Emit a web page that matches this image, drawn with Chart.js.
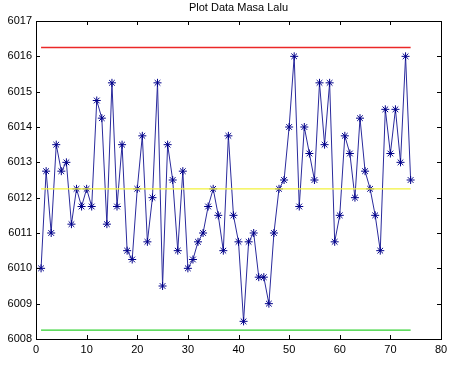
<!DOCTYPE html>
<html lang="en">
<head>
  <meta charset="UTF-8">
  <title>Plot Data Masa Lalu</title>
  <script src="https://cdn.jsdelivr.net/npm/chart.js"></script>
  <style>
    * { margin: 0; padding: 0; }
    body { background: #fff; }
    .wrap { position: relative; width: 454px; height: 368px; }
  </style>
</head>
<body>
  <div class="wrap">
    <canvas id="plot"></canvas>
  </div>

  <script>
    // data
    const dataValues = [
      6010, 6012.75, 6011, 6013.5, 6012.75, 6013, 6011.25, 6012.25, 6011.75, 6012.25,
      6011.75, 6014.75, 6014.25, 6011.25, 6015.25, 6011.75, 6013.5, 6010.5, 6010.25, 6012.25,
      6013.75, 6010.75, 6012, 6015.25, 6009.5, 6013.5, 6012.5, 6010.5, 6012.75, 6010,
      6010.25, 6010.75, 6011, 6011.75, 6012.25, 6011.5, 6010.5, 6013.75, 6011.5, 6010.75,
      6008.5, 6010.75, 6011, 6009.75, 6009.75, 6009, 6011, 6012.25, 6012.5, 6014,
      6016, 6011.75, 6014, 6013.25, 6012.5, 6015.25, 6013.5, 6015.25, 6010.75, 6011.5,
      6013.75, 6013.25, 6012, 6014.25, 6012.75, 6012.25, 6011.5, 6010.5, 6014.5, 6013.25,
      6014.5, 6013, 6016, 6012.5
    ];
    const upperLimit = 6016.25;
    const centerLine = 6012.25;
    const lowerLimit = 6008.25;
    const xTicks = [0, 10, 20, 30, 40, 50, 60, 70, 80];
    const yTicks = [6008, 6009, 6010, 6011, 6012, 6013, 6014, 6015, 6016, 6017];

    const points = dataValues.map((v, i) => ({ x: i + 1, y: v }));
    const first = 1, last = dataValues.length;
    const hLine = v => [{ x: first, y: v }, { x: last, y: v }];

    // MATLAB style box with inward ticks on all sides, plus the title
    const matlabBox = {
      id: 'matlabBox',
      afterDraw(chart) {
        const { ctx, chartArea: a, scales } = chart;
        ctx.save();
        ctx.strokeStyle = '#000';
        ctx.lineWidth = 1;
        ctx.strokeRect(Math.round(a.left) + 0.5, Math.round(a.top) + 0.5,
          Math.round(a.right - a.left), Math.round(a.bottom - a.top));
        ctx.beginPath();
        xTicks.forEach(t => {
          const px = Math.round(scales.x.getPixelForValue(t)) + 0.5;
          ctx.moveTo(px, a.bottom); ctx.lineTo(px, a.bottom - 4);
          ctx.moveTo(px, a.top); ctx.lineTo(px, a.top + 4);
        });
        yTicks.forEach(t => {
          const py = Math.round(scales.y.getPixelForValue(t)) + 0.5;
          ctx.moveTo(a.left, py); ctx.lineTo(a.left + 4, py);
          ctx.moveTo(a.right, py); ctx.lineTo(a.right - 4, py);
        });
        ctx.stroke();
        ctx.fillStyle = '#000';
        ctx.font = '11px "Liberation Sans", Arial, sans-serif';
        ctx.textAlign = 'center';
        ctx.textBaseline = 'middle';
        ctx.fillText('Plot Data Masa Lalu', (a.left + a.right) / 2, 8);
        ctx.restore();
      }
    };

    new Chart(document.getElementById('plot'), {
      type: 'line',
      data: {
        datasets: [
          {
            data: hLine(upperLimit),
            borderColor: 'rgb(235, 40, 40)',
            borderWidth: 1.3,
            pointRadius: 0
          },
          {
            data: hLine(centerLine),
            borderColor: 'rgb(242, 242, 60)',
            borderWidth: 1.3,
            pointRadius: 0
          },
          {
            data: hLine(lowerLimit),
            borderColor: 'rgb(46, 209, 46)',
            borderWidth: 1.3,
            pointRadius: 0
          },
          {
            data: points,
            borderColor: '#2a2a9c',
            borderWidth: 1,
            tension: 0,
            pointStyle: 'star',
            pointRadius: 4,
            pointBorderColor: '#00008a',
            pointBorderWidth: 1,
            pointBackgroundColor: '#00008a'
          }
        ]
      },
      options: {
        responsive: true,
        maintainAspectRatio: false,
        animation: false,
        layout: { padding: { top: 21, right: 13, left: 0, bottom: 0 } },
        plugins: {
          legend: { display: false },
          tooltip: { enabled: false }
        },
        scales: {
          x: {
            type: 'linear',
            min: 0,
            max: 80,
            afterBuildTicks: s => { s.ticks = xTicks.map(v => ({ value: v })); },
            afterFit: s => { s.height = 29; },
            grid: { display: false, drawTicks: false },
            border: { display: false },
            ticks: {
              color: '#000',
              padding: 4,
              maxRotation: 0,
              font: { family: '"Liberation Sans", Arial, sans-serif', size: 11 }
            }
          },
          y: {
            type: 'linear',
            min: 6008,
            max: 6017,
            afterBuildTicks: s => { s.ticks = yTicks.map(v => ({ value: v })); },
            afterFit: s => { s.width = 36; },
            grid: { display: false, drawTicks: false },
            border: { display: false },
            ticks: {
              color: '#000',
              padding: 4,
              callback: v => String(v),
              font: { family: '"Liberation Sans", Arial, sans-serif', size: 11 }
            }
          }
        }
      },
      plugins: [matlabBox]
    });
  </script>
</body>
</html>
